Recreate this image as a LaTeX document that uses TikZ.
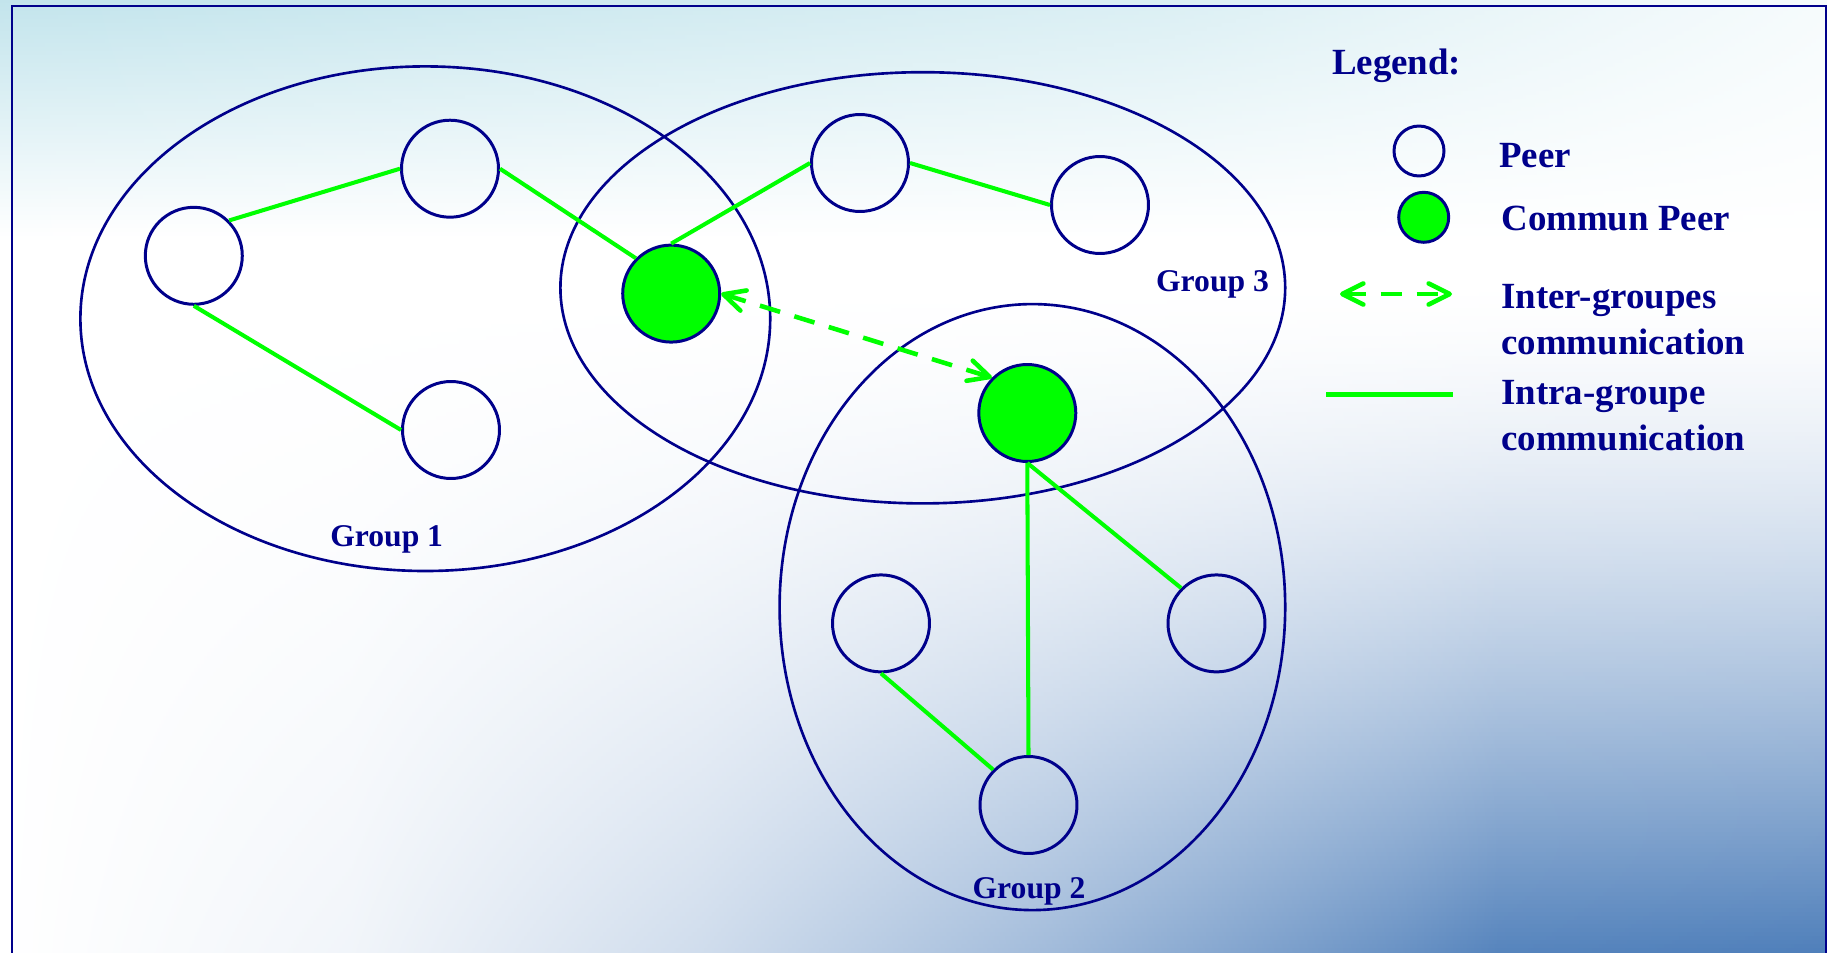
\documentclass[tikz,border=0pt]{standalone}
\usepackage{fontspec}
\setmainfont{Liberation Serif}
\usetikzlibrary{arrows.meta}

\definecolor{navy}{RGB}{0,0,139}
\definecolor{linkgreen}{RGB}{0,255,0}
\definecolor{skycyan}{RGB}{194,228,236}
\definecolor{deepblue}{RGB}{79,127,186}

\tikzset{
  peer/.style={circle, draw=navy, line width=1.7pt, minimum size=1.94cm, inner sep=0pt},
  commun/.style={peer, fill=linkgreen},
  groupring/.style={draw=navy, line width=1.5pt},
  intra/.style={draw=linkgreen, line width=2.3pt},
  barb/.tip={Straight Barb[length=12pt, width=12pt, round]},
  inter/.style={draw=linkgreen, line width=2.6pt, dash pattern=on 12pt off 8.5pt, barb-barb},
  grouplabel/.style={text=navy, font=\bfseries\fontsize{18}{21}\selectfont, anchor=base, inner sep=0pt},
  legendtext/.style={text=navy, font=\bfseries\fontsize{21}{26.2}\selectfont, anchor=base west, align=left, inner sep=0pt},
}

\begin{document}
\begin{tikzpicture}[x=0.02cm, y=-0.02cm]
\useasboundingbox (0,0) rectangle (1827,953);
\begin{scope}
\clip (0,0) rectangle (1827,953);
% background: white, a sky tint along the top, a blue wash in the lower right.
% Each band is an opaque left-to-right shading (the band spans 25bp..75bp).
\fill[white] (0,0) rectangle (1827,953);
\foreach \m in {0,...,60}{
  \pgfmathsetmacro{\t}{max(1-(4*\m+2)/240,0)}
  \pgfmathsetmacro{\ca}{100*\t}
  \pgfmathsetmacro{\cb}{80*\t}
  \pgfmathsetmacro{\cc}{60*\t}
  \pgfmathsetmacro{\cd}{27*\t}
  \pgfmathsetmacro{\ce}{15*\t}
  \edef\declareband{\noexpand\pgfdeclarehorizontalshading{skyband\m}{100bp}{%
    color(0bp)=(skycyan!\ca!white); color(25bp)=(skycyan!\ca!white);
    color(41.4bp)=(skycyan!\cb!white);
    color(56.9bp)=(skycyan!\cc!white);
    color(69.6bp)=(skycyan!\cd!white);
    color(75bp)=(skycyan!\ce!white); color(100bp)=(skycyan!\ce!white)}}
  \declareband
  \shade[shading=skyband\m] (0,4*\m) rectangle (1827,4*\m+8);
}
\foreach \k in {0,...,168}{
  \pgfmathsetmacro{\v}{min(((4*\k+2)/673)^1.5,1)}
  \pgfmathsetmacro{\ba}{8*\v}
  \pgfmathsetmacro{\bb}{27*\v}
  \pgfmathsetmacro{\bc}{53*\v}
  \pgfmathsetmacro{\bd}{85*\v}
  \pgfmathsetmacro{\be}{96*\v}
  \pgfmathsetmacro{\bf}{100*\v}
  \edef\declareband{\noexpand\pgfdeclarehorizontalshading{blueband\k}{100bp}{%
    color(0bp)=(white); color(25bp)=(white);
    color(34.6bp)=(deepblue!\ba!white);
    color(44.2bp)=(deepblue!\bb!white);
    color(53.7bp)=(deepblue!\bc!white);
    color(63.3bp)=(deepblue!\bd!white);
    color(66bp)=(deepblue!\be!white);
    color(75bp)=(deepblue!\bf!white); color(100bp)=(deepblue!\bf!white)}}
  \declareband
  \shade[shading=blueband\k] (0,280+4*\k) rectangle (1827,288+4*\k);
}
% frame
\draw[navy, line width=1.7pt] (12,990) -- (12,6) -- (1826,6) -- (1826,990);

% groups
\draw[groupring] (425.3,318.7) ellipse [x radius=344.9, y radius=252.3];
\draw[groupring] (922.8,287.8) ellipse [x radius=362.4, y radius=215.6];
\draw[groupring] (1032.4,607.1) ellipse [x radius=252.8, y radius=303];

% peers
\node[peer]   (p1a) at (193.8,255.8) {};
\node[peer]   (p1b) at (450,168.7) {};
\node[peer]   (p1c) at (451,430) {};
\node[commun] (ca)  at (671.2,293.6) {};
\node[peer]   (p3a) at (860,163) {};
\node[peer]   (p3b) at (1100,205) {};
\node[commun] (cb)  at (1027.3,413) {};
\node[peer]   (p2a) at (881,623.4) {};
\node[peer]   (p2b) at (1216.5,623.4) {};
\node[peer]   (p2c) at (1028.5,805) {};

% intra-group links
\draw[intra] (p1a.north east) -- (p1b.west);
\draw[intra] (p1b.east) -- (ca.north west);
\draw[intra] (p1a.south) -- (p1c.west);
\draw[intra] (ca.north) -- (p3a.west);
\draw[intra] (p3a.east) -- (p3b.west);
\draw[intra] (cb.south) -- (p2b.north west);
\draw[intra] (cb.south) -- (p2c.north);
\draw[intra] (p2a.south) -- (p2c.north west);
% inter-group link
\draw[inter] (ca.east) -- (cb.north west);

% group labels
\node[grouplabel] (g1) at (386.7,546.7) {Group 1};
\node[grouplabel] (g3) at (1212.5,291.7) {Group 3};
\node[grouplabel] (g2) at (1029,898.3) {Group 2};

% legend
\node[legendtext] (legtitle) at (1331.7,75) {Legend:};
\node[peer, minimum size=1.0cm] (legpeer) at (1419,151) {};
\node[commun, minimum size=1.0cm] (legcommun) at (1423.7,217.3) {};
\node[legendtext] (legpeertxt) at (1499,167.7) {Peer};
\node[legendtext] (legcommuntxt) at (1501,230.7) {Commun Peer};
\coordinate (interL) at (1340,294);
\coordinate (interR) at (1452,294);
\draw[inter] (interL) -- (interR);
\node[legendtext] (legintertxt) at (1501,354.3) {Inter-groupes\\communication};
\coordinate (intraL) at (1326,394.3);
\coordinate (intraR) at (1453.3,394.3);
\draw[intra, line width=2.8pt] (intraL) -- (intraR);
\node[legendtext] (legintratxt) at (1501,450.7) {Intra-groupe\\communication};
\end{scope}
\end{tikzpicture}
\end{document}
